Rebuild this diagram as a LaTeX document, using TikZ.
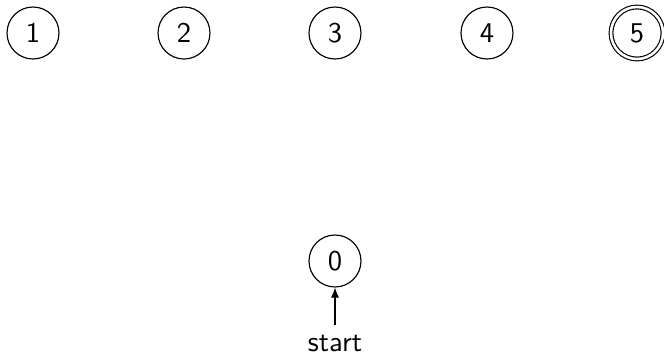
\documentclass[tikz,border=0pt]{standalone}
\usetikzlibrary{arrows.meta}
\begin{document}
\begin{tikzpicture}[x=0.35pt,y=-0.35pt,
  font=\sffamily,
  statenode/.style={circle,draw,line width=0.4pt,minimum size=18.2pt,inner sep=0pt},
  acceptnode/.style={statenode,double,double distance=0.9pt},
  startarrow/.style={line width=0.4pt,-{Latex[length=3.5pt,width=2.8pt]}}]
\useasboundingbox (0,0) rectangle (664,354);
\node[statenode] (s1) at (33,33) {1};
\node[statenode] (s2) at (184,33) {2};
\node[statenode] (s3) at (335,33) {3};
\node[statenode] (s4) at (487,33) {4};
\node[acceptnode] (s5) at (637,33) {5};
\node[statenode] (s0) at (335,261) {0};
\coordinate (st) at (335,325);
\node[anchor=base,inner sep=0pt] (lab) at (335,352) {start};
\draw[startarrow] (st) -- (s0);
\end{tikzpicture}
\end{document}
